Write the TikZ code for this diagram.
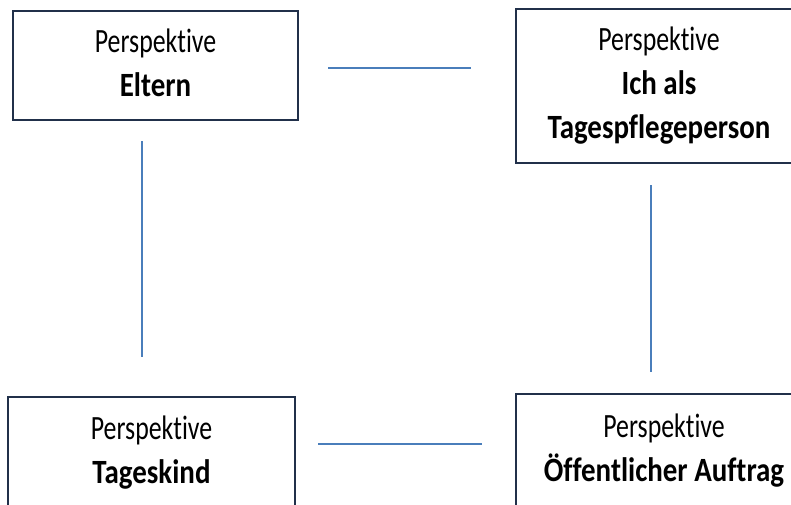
\documentclass[tikz,border=0pt]{standalone}
\usepackage{fontspec}
\setmainfont{Carlito}[RawFeature={-liga;-clig;-dlig}]
\usetikzlibrary{positioning}
\definecolor{boxnavy}{RGB}{33,48,74}
\definecolor{linkblue}{RGB}{74,126,187}
\newcommand{\persptext}[1]{\scalebox{0.76}[1]{\fontsize{34}{44}\selectfont
  \begin{tabular}{@{}c@{}}Perspektive\\#1\end{tabular}}}
\newcommand{\boldline}[1]{\scalebox{1.12}[1]{\textbf{#1}}}

\begin{document}
\begin{tikzpicture}[x=1pt,y=-1pt,
    perspbox/.style={draw=boxnavy,line width=2.2pt,inner sep=0pt,align=center},
    link/.style={draw=linkblue,line width=2.7pt}]
  \useasboundingbox (0,0) rectangle (791,504);
  \node[perspbox,minimum width=285pt,minimum height=109pt] (eltern) at (155.5,65.5)
    {\persptext{\boldline{Eltern}}};
  \node[perspbox,minimum width=286pt,minimum height=154pt] (ich) at (659,86)
    {\persptext{\boldline{Ich als}\\\boldline{Tagespflegeperson}}};
  \node[perspbox,minimum width=287pt,minimum height=112pt] (kind) at (151.5,453)
    {\persptext{\boldline{Tageskind}}};
  \node[perspbox,minimum width=296pt,minimum height=114pt] (auftrag) at (664,451)
    {\persptext{\boldline{Öffentlicher Auftrag}}};
  % Verbindungen
  \draw[link,shorten <=29pt,shorten >=44pt] ([yshift=-2.5pt]eltern.east) -- ([yshift=-2.5pt]eltern.east -| ich.west);
  \draw[link,shorten <=20pt,shorten >=39pt] ([xshift=-13.5pt]eltern.south) -- ([xshift=-13.5pt]eltern.south |- kind.north);
  \draw[link,shorten <=21pt,shorten >=21pt] ([xshift=-8pt]ich.south) -- ([xshift=-8pt]ich.south |- auftrag.north);
  \draw[link,shorten <=22pt,shorten >=33pt] ([yshift=9pt]kind.east) -- ([yshift=9pt]kind.east -| auftrag.west);
\end{tikzpicture}
\end{document}
